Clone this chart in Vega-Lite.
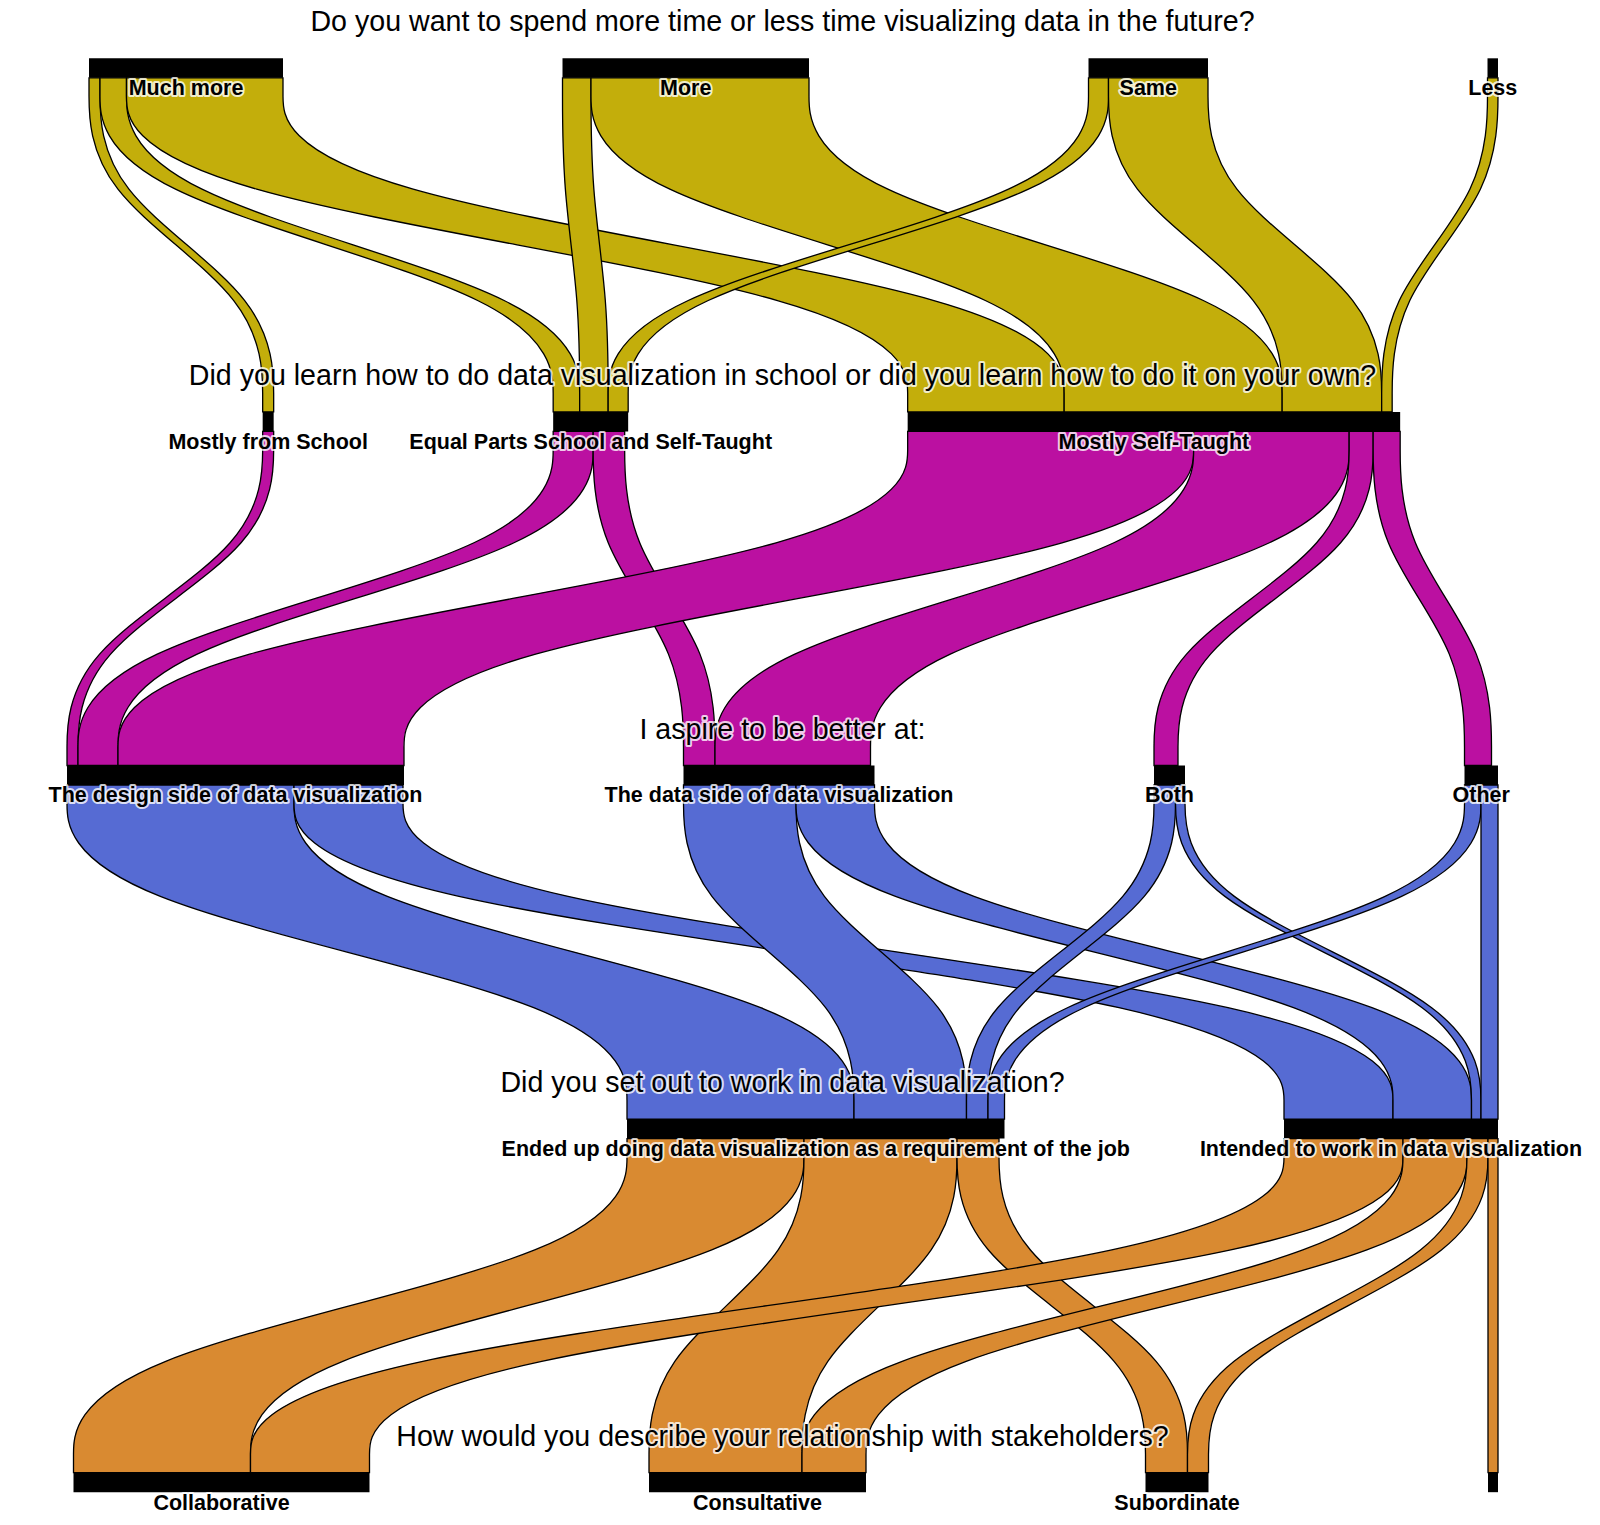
{
  "$schema": "https://vega.github.io/schema/vega-lite/v6.json",
  "width": 1600,
  "height": 1525,
  "padding": 0,
  "autosize": {"type": "none"},
  "background": "white",
  "config": {"view": {"stroke": null}},
  "datasets": {
    "links": [
      {"lvl": 1, "src": "Much more", "sr": 1, "tgt": "Mostly from School", "tr": 1, "n": 11},
      {"lvl": 1, "src": "Much more", "sr": 1, "tgt": "Equal Parts School and Self-Taught", "tr": 2, "n": 26.5},
      {"lvl": 1, "src": "Much more", "sr": 1, "tgt": "Mostly Self-Taught", "tr": 3, "n": 156.5},
      {"lvl": 1, "src": "More", "sr": 2, "tgt": "Equal Parts School and Self-Taught", "tr": 2, "n": 28.5},
      {"lvl": 1, "src": "More", "sr": 2, "tgt": "Mostly Self-Taught", "tr": 3, "n": 218},
      {"lvl": 1, "src": "Same", "sr": 3, "tgt": "Equal Parts School and Self-Taught", "tr": 2, "n": 20},
      {"lvl": 1, "src": "Same", "sr": 3, "tgt": "Mostly Self-Taught", "tr": 3, "n": 99.5},
      {"lvl": 1, "src": "Less", "sr": 4, "tgt": "Mostly Self-Taught", "tr": 3, "n": 10.5},
      {"lvl": 2, "src": "Mostly from School", "sr": 1, "tgt": "The design side of data visualization", "tr": 1, "n": 11},
      {"lvl": 2, "src": "Equal Parts School and Self-Taught", "sr": 2, "tgt": "The design side of data visualization", "tr": 1, "n": 40},
      {"lvl": 2, "src": "Equal Parts School and Self-Taught", "sr": 2, "tgt": "The data side of data visualization", "tr": 2, "n": 31.5},
      {"lvl": 2, "src": "Mostly Self-Taught", "sr": 3, "tgt": "The design side of data visualization", "tr": 1, "n": 286},
      {"lvl": 2, "src": "Mostly Self-Taught", "sr": 3, "tgt": "The data side of data visualization", "tr": 2, "n": 155.5},
      {"lvl": 2, "src": "Mostly Self-Taught", "sr": 3, "tgt": "Both", "tr": 3, "n": 24},
      {"lvl": 2, "src": "Mostly Self-Taught", "sr": 3, "tgt": "Other", "tr": 4, "n": 27},
      {"lvl": 3, "src": "The design side of data visualization", "sr": 1, "tgt": "Ended up doing data visualization as a requirement of the job", "tr": 1, "n": 227},
      {"lvl": 3, "src": "The design side of data visualization", "sr": 1, "tgt": "Intended to work in data visualization", "tr": 2, "n": 109},
      {"lvl": 3, "src": "The data side of data visualization", "sr": 2, "tgt": "Ended up doing data visualization as a requirement of the job", "tr": 1, "n": 112.5},
      {"lvl": 3, "src": "The data side of data visualization", "sr": 2, "tgt": "Intended to work in data visualization", "tr": 2, "n": 78.5},
      {"lvl": 3, "src": "Both", "sr": 3, "tgt": "Ended up doing data visualization as a requirement of the job", "tr": 1, "n": 21.5},
      {"lvl": 3, "src": "Both", "sr": 3, "tgt": "Intended to work in data visualization", "tr": 2, "n": 9.5},
      {"lvl": 3, "src": "Other", "sr": 4, "tgt": "Ended up doing data visualization as a requirement of the job", "tr": 1, "n": 16.5},
      {"lvl": 3, "src": "Other", "sr": 4, "tgt": "Intended to work in data visualization", "tr": 2, "n": 17},
      {"lvl": 4, "src": "Ended up doing data visualization as a requirement of the job", "sr": 1, "tgt": "Collaborative", "tr": 1, "n": 177},
      {"lvl": 4, "src": "Ended up doing data visualization as a requirement of the job", "sr": 1, "tgt": "Consultative", "tr": 2, "n": 153},
      {"lvl": 4, "src": "Ended up doing data visualization as a requirement of the job", "sr": 1, "tgt": "Subordinate", "tr": 3, "n": 42},
      {"lvl": 4, "src": "Intended to work in data visualization", "sr": 2, "tgt": "Collaborative", "tr": 1, "n": 119},
      {"lvl": 4, "src": "Intended to work in data visualization", "sr": 2, "tgt": "Consultative", "tr": 2, "n": 64},
      {"lvl": 4, "src": "Intended to work in data visualization", "sr": 2, "tgt": "Subordinate", "tr": 3, "n": 21},
      {"lvl": 4, "src": "Intended to work in data visualization", "sr": 2, "tgt": "", "tr": 4, "n": 10}
    ],
    "questions": [
      {"tl": 1, "q": "Do you want to spend more time or less time visualizing data in the future?"},
      {"tl": 2, "q": "Did you learn how to do data visualization in school or did you learn how to do it on your own?"},
      {"tl": 3, "q": "I aspire to be better at:"},
      {"tl": 4, "q": "Did you set out to work in data visualization?"},
      {"tl": 5, "q": "How would you describe your relationship with stakeholders?"}
    ]
  },
  "layer": [
    {
      "data": {"name": "links"},
      "transform": [
        {"calculate": "datum.lvl + '|' + datum.src + '|' + datum.tgt", "as": "id"},
        {"fold": ["src", "tgt"], "as": ["side", "node"]},
        {"calculate": "datum.side == 'src' ? datum.lvl : datum.lvl + 1", "as": "nl"},
        {"calculate": "datum.side == 'src' ? datum.sr : datum.tr", "as": "no"},
        {"calculate": "datum.side == 'src' ? datum.tr : datum.sr", "as": "oo"},
        {"joinaggregate": [{"op": "sum", "field": "n", "as": "sideSum"}], "groupby": ["nl", "node", "side"]},
        {"joinaggregate": [{"op": "max", "field": "sideSum", "as": "size"}, {"op": "count", "as": "rows"}], "groupby": ["nl", "node"]},
        {"calculate": "datum.size / datum.rows", "as": "share"},
        {"window": [{"op": "sum", "field": "share", "as": "cumIncl"}, {"op": "dense_rank", "as": "rk"}], "sort": [{"field": "no", "order": "ascending"}], "groupby": ["nl"], "frame": [null, 0], "ignorePeers": false},
        {"joinaggregate": [{"op": "sum", "field": "share", "as": "lvlTotal"}, {"op": "distinct", "field": "node", "as": "nNodes"}], "groupby": ["nl"]},
        {"calculate": "datum.lvlTotal + 279.5 * (datum.nNodes - 1)", "as": "span"},
        {"calculate": "1498 - datum.span - (datum.nl == 2 ? (1431 - datum.span) / 3 : 0)", "as": "start"},
        {"calculate": "datum.start + datum.cumIncl - datum.size + 279.5 * (datum.rk - 1)", "as": "nodeX0"}
      ],
      "layer": [
        {
          "transform": [
            {"window": [{"op": "sum", "field": "n", "as": "cumLink"}], "sort": [{"field": "oo", "order": "ascending"}], "groupby": ["nl", "node", "side"], "frame": [null, 0]},
            {"calculate": "datum.nodeX0 + datum.cumLink - datum.n", "as": "x0"},
            {"calculate": "datum.nodeX0 + datum.cumLink", "as": "x1"},
            {"calculate": "datum.side == 'src' ? datum.nl + 0.0551 : datum.nl", "as": "ya"},
            {"calculate": "datum.side == 'src' ? datum.nl + 0.0551 + 0.315 : datum.nl - 0.315", "as": "yb"},
            {"fold": ["ya", "yb"], "as": ["pt", "y"]}
          ],
          "mark": {"type": "area", "orient": "horizontal", "interpolate": "basis", "stroke": "black", "strokeWidth": 1.3, "fillOpacity": 1},
          "encoding": {
            "x": {"field": "x0", "type": "quantitative", "stack": null, "scale": {"domain": [0, 1600], "nice": false, "zero": false}, "axis": null},
            "x2": {"field": "x1"},
            "y": {"field": "y", "type": "quantitative", "scale": {"domain": [0.8351, 5.1479], "reverse": true, "nice": false, "zero": false}, "axis": null},
            "detail": {"field": "id", "type": "nominal"},
            "color": {"field": "lvl", "type": "nominal", "scale": {"domain": [1, 2, 3, 4], "range": ["#c3ae0b", "#bb10a1", "#566bd3", "#d98a31"]}, "legend": null}
          }
        },
        {
          "transform": [
            {"aggregate": [{"op": "min", "field": "nodeX0", "as": "bx0"}, {"op": "max", "field": "size", "as": "bsize"}], "groupby": ["nl", "node"]},
            {"calculate": "datum.bx0 + datum.bsize", "as": "bx1"},
            {"calculate": "datum.nl + 0.0551", "as": "by1"},
            {"calculate": "datum.bx0 + datum.bsize / 2", "as": "cx"}
          ],
          "layer": [
            {
              "mark": {"type": "rect", "color": "black"},
              "encoding": {
                "x": {"field": "bx0", "type": "quantitative", "axis": null},
                "x2": {"field": "bx1"},
                "y": {"field": "nl", "type": "quantitative", "axis": null},
                "y2": {"field": "by1"}
              }
            },
            {
              "mark": {"type": "text", "align": "center", "baseline": "alphabetic", "dy": 17.5, "font": "Liberation Sans", "fontWeight": "bold", "fontSize": 21.5, "fill": null, "stroke": "white", "strokeWidth": 4, "strokeOpacity": 0.8, "strokeJoin": "round"},
              "encoding": {
                "x": {"field": "cx", "type": "quantitative", "axis": null},
                "y": {"field": "by1", "type": "quantitative", "axis": null},
                "text": {"field": "node"}
              }
            },
            {
              "mark": {"type": "text", "align": "center", "baseline": "alphabetic", "dy": 17.5, "font": "Liberation Sans", "fontWeight": "bold", "fontSize": 21.5, "color": "black"},
              "encoding": {
                "x": {"field": "cx", "type": "quantitative", "axis": null},
                "y": {"field": "by1", "type": "quantitative", "axis": null},
                "text": {"field": "node"}
              }
            }
          ]
        }
      ]
    },
    {
      "data": {"name": "questions"},
      "layer": [
        {
          "mark": {"type": "text", "align": "center", "baseline": "alphabetic", "dy": -27, "font": "Liberation Sans", "fontSize": 28.6, "fill": null, "stroke": "white", "strokeWidth": 4, "strokeOpacity": 0.8, "strokeJoin": "round"},
          "encoding": {
            "x": {"datum": 782.5, "type": "quantitative", "axis": null},
            "y": {"field": "tl", "type": "quantitative", "axis": null},
            "text": {"field": "q"}
          }
        },
        {
          "mark": {"type": "text", "align": "center", "baseline": "alphabetic", "dy": -27, "font": "Liberation Sans", "fontSize": 28.6, "color": "black"},
          "encoding": {
            "x": {"datum": 782.5, "type": "quantitative", "axis": null},
            "y": {"field": "tl", "type": "quantitative", "axis": null},
            "text": {"field": "q"}
          }
        }
      ]
    }
  ]
}
